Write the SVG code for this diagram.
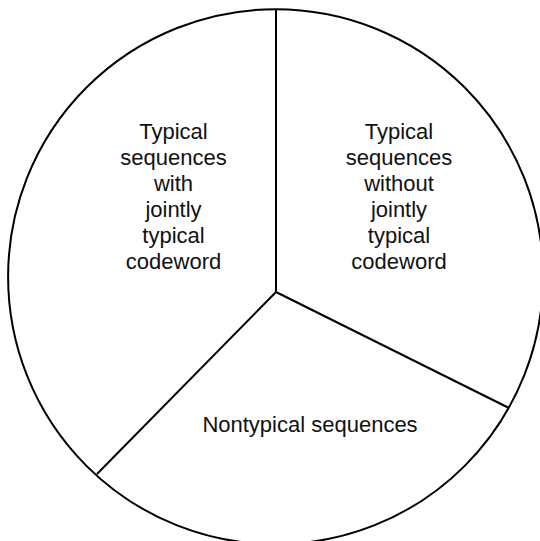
<svg xmlns="http://www.w3.org/2000/svg" width="540" height="541" viewBox="0 0 540 541">
<style>
.ln{fill:none;stroke:#000;stroke-width:2}
.t{font-family:"Liberation Sans",Arial,sans-serif;font-size:22px;fill:#111;text-anchor:middle}
</style>
<rect width="540" height="541" fill="#fff"/>
<g id="circle"><circle class="ln" cx="275.6" cy="276.7" r="267.5"/></g>
<g id="connectors">
<line class="ln" x1="276" y1="9" x2="276" y2="292"/>
<line class="ln" x1="276" y1="292" x2="509" y2="408"/>
<line class="ln" x1="276" y1="292" x2="97" y2="474"/>
</g>
<g id="left-region">
<text class="t" x="173.5" y="139">Typical</text>
<text class="t" x="173.5" y="165">sequences</text>
<text class="t" x="173.5" y="191">with</text>
<text class="t" x="173.5" y="217">jointly</text>
<text class="t" x="173.5" y="243">typical</text>
<text class="t" x="173.5" y="269">codeword</text>
</g>
<g id="right-region">
<text class="t" x="399" y="139">Typical</text>
<text class="t" x="399" y="165">sequences</text>
<text class="t" x="399" y="191">without</text>
<text class="t" x="399" y="217">jointly</text>
<text class="t" x="399" y="243">typical</text>
<text class="t" x="399" y="269">codeword</text>
</g>
<g id="bottom-region">
<text class="t" x="310" y="432">Nontypical sequences</text>
</g>
</svg>
